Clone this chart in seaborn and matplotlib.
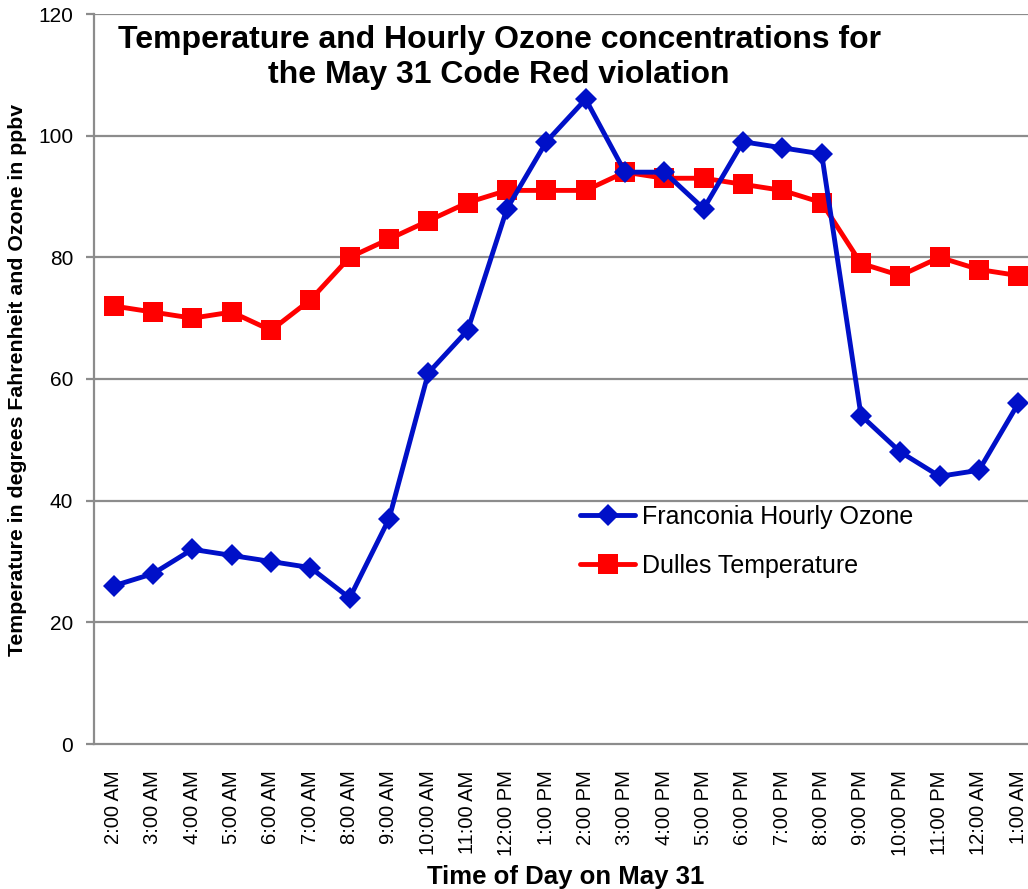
import matplotlib
matplotlib.use("Agg")
import matplotlib.pyplot as plt
import seaborn as sns
import pandas as pd
import numpy as np

hours = ["2:00 AM", "3:00 AM", "4:00 AM", "5:00 AM", "6:00 AM", "7:00 AM", "8:00 AM",
         "9:00 AM", "10:00 AM", "11:00 AM", "12:00 PM", "1:00 PM", "2:00 PM", "3:00 PM",
         "4:00 PM", "5:00 PM", "6:00 PM", "7:00 PM", "8:00 PM", "9:00 PM", "10:00 PM",
         "11:00 PM", "12:00 AM", "1:00 AM"]
ozone = [26, 28, 32, 31, 30, 29, 24, 37, 61, 68, 88, 99, 106, 94, 94, 88, 99, 98, 97,
         54, 48, 44, 45, 56]
temperature = [72, 71, 70, 71, 68, 73, 80, 83, 86, 89, 91, 91, 91, 94, 93, 93, 92, 91, 89,
               79, 77, 80, 78, 77]
series_names = ["Franconia Hourly Ozone", "Dulles Temperature"]
y_ticks = [0, 20, 40, 60, 80, 100, 120]

sns.set_style("white")
plt.rcParams["font.family"] = ["Liberation Sans", "DejaVu Sans"]
plt.rcParams["text.color"] = "black"
plt.rcParams["xtick.labelcolor"] = "black"
plt.rcParams["ytick.labelcolor"] = "black"

W, H = 1028, 889
fig = plt.figure(figsize=(W / 100, H / 100), dpi=100)
ax = fig.add_axes([94 / W, (H - 744) / H, 944 / W, 730 / H])

pos = np.arange(len(hours))
df_o = pd.DataFrame({"pos": pos, "val": ozone})
df_t = pd.DataFrame({"pos": pos, "val": temperature})

grid_c = "#8c8c8c"
for y in y_ticks[1:]:
    ax.axhline(y, color=grid_c, lw=1.6, zorder=0)

sns.lineplot(data=df_o, x="pos", y="val", ax=ax, color="#0010C8", lw=3.5,
             marker="D", markersize=11.5, markeredgewidth=0, label=series_names[0], zorder=3)
sns.lineplot(data=df_t, x="pos", y="val", ax=ax, color="#FF0000", lw=3.5,
             marker="s", markersize=14, markeredgewidth=0, label=series_names[1], zorder=2)

ax.set_xlim(-0.5, len(hours) - 0.5)
ax.set_ylim(0, 120)
ax.set_yticks(y_ticks)
ax.set_yticklabels([str(v) for v in y_ticks], fontsize=15)
ax.set_xticks(pos)
ax.set_xticklabels(hours, rotation=90, fontsize=14.5, va="top")
ax.set_xticks(np.arange(-0.5, len(hours), 1.0), minor=True)
ax.tick_params(axis="x", which="major", length=0, pad=19)
ax.tick_params(axis="x", which="minor", length=6, width=1.6, color=grid_c, direction="out")
ax.tick_params(axis="y", length=6, width=1.6, color=grid_c, direction="out", pad=9, left=True)
ax.set_xlabel("")
ax.set_ylabel("")

for s in ["top", "right"]:
    ax.spines[s].set_visible(False)
for s in ["left", "bottom"]:
    ax.spines[s].set_color(grid_c)
    ax.spines[s].set_linewidth(1.6)

fig.text(499 / W, 1 - 25 / H,
         "Temperature and Hourly Ozone concentrations for\nthe May 31 Code Red violation",
         ha="center", va="top", fontsize=23, fontweight="bold", linespacing=1.2)
fig.text(566 / W, 1 - 877 / H, "Time of Day on May 31", ha="center", va="center",
         fontsize=18.5, fontweight="bold")
fig.text(18 / W, 1 - 380 / H, "Temperature in degrees Fahrenheit and Ozone in ppbv",
         ha="center", va="center", rotation=90, fontsize=15.3, fontweight="bold")

leg = ax.legend(loc="upper left", bbox_to_anchor=(580 / W, 1 - 505 / H),
                bbox_transform=fig.transFigure, frameon=False, fontsize=18,
                handlelength=2.2, handletextpad=0.3, labelspacing=1.0,
                borderpad=0, borderaxespad=0)

fig.savefig("out.png", dpi=100)
